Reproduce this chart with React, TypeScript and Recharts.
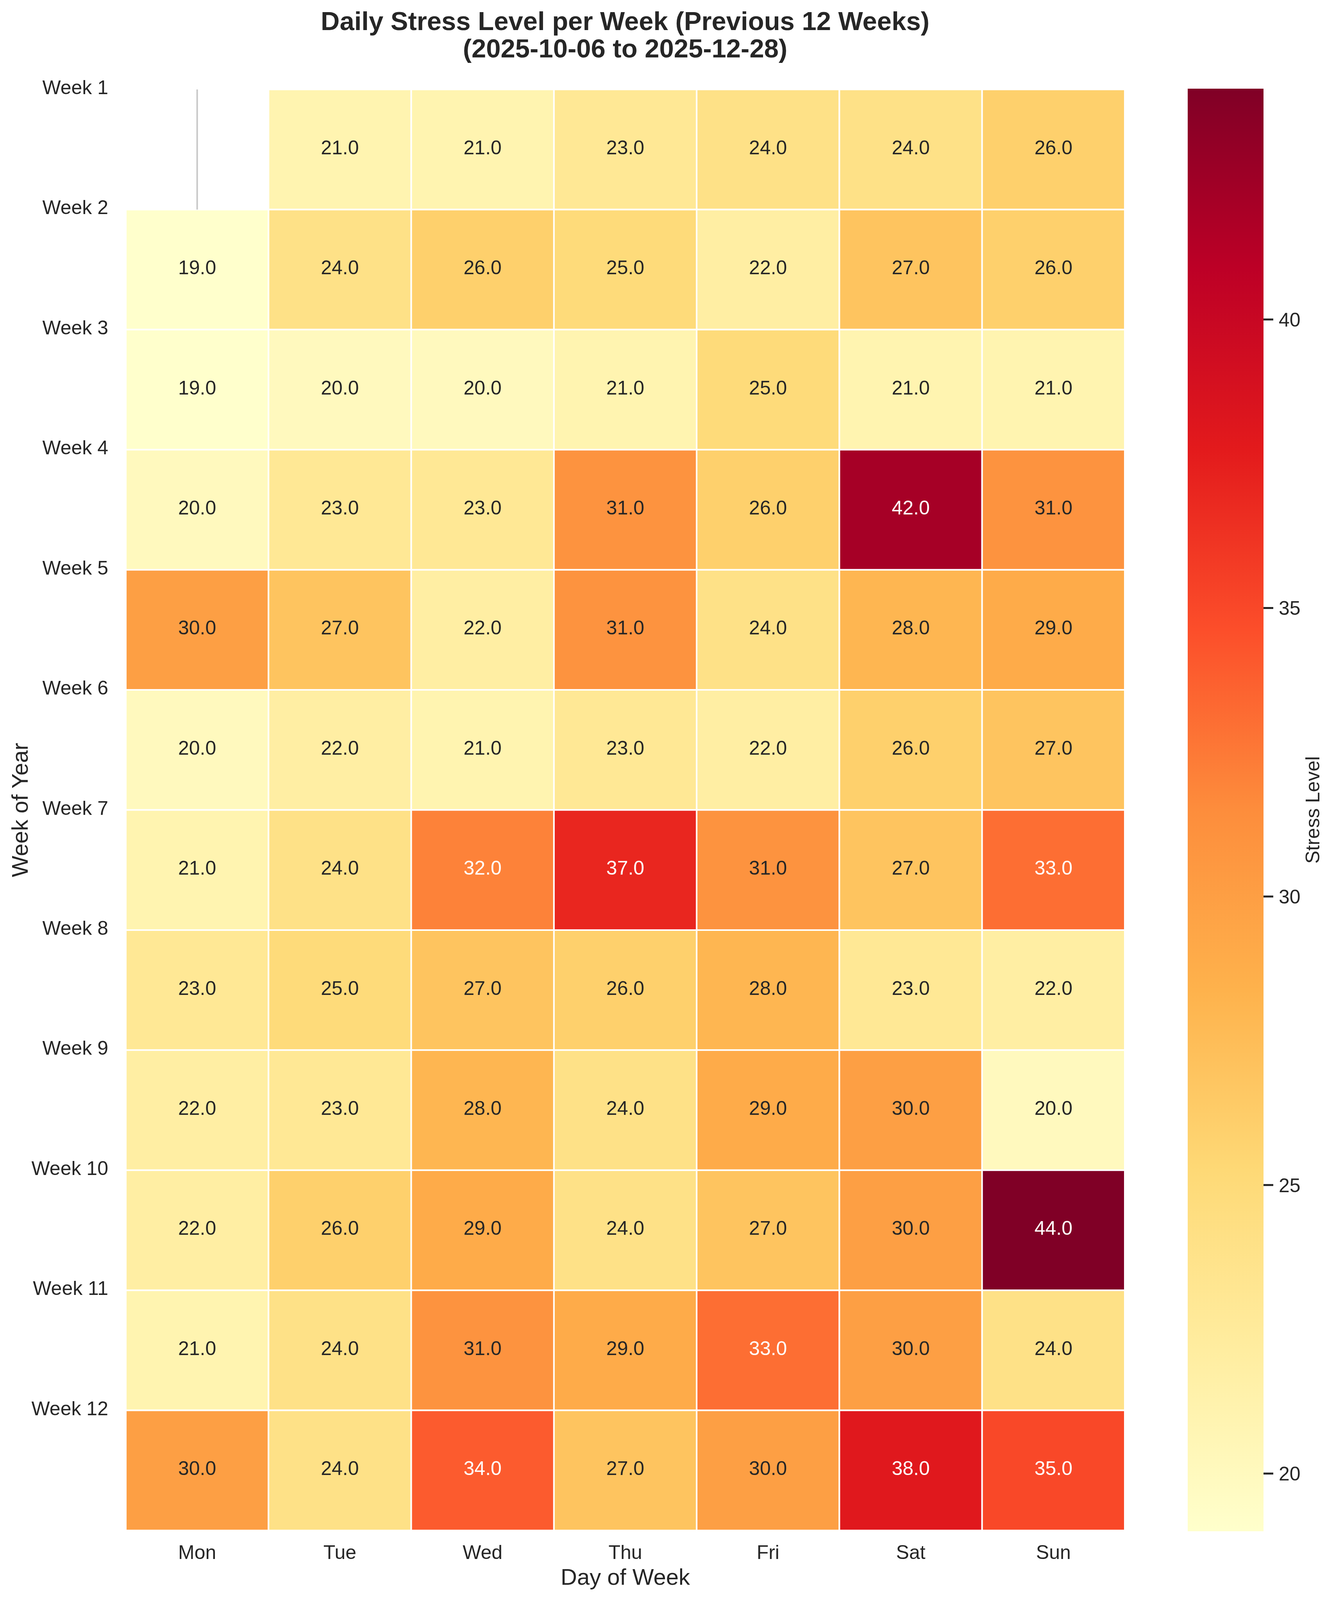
import React from 'react';
import {
  ScatterChart,
  Scatter,
  XAxis,
  YAxis,
  ReferenceArea,
  ReferenceLine,
  Label,
  ComposedChart,
  Bar,
} from 'recharts';

// ---------- data ----------
const DAYS = ['Mon', 'Tue', 'Wed', 'Thu', 'Fri', 'Sat', 'Sun'];
const WEEK_LABELS = ['Week 1', 'Week 2', 'Week 3', 'Week 4', 'Week 5', 'Week 6', 'Week 7', 'Week 8', 'Week 9', 'Week 10', 'Week 11', 'Week 12'];

const week1 = [null, 21, 21, 23, 24, 24, 26];
const week2 = [19, 24, 26, 25, 22, 27, 26];
const week3 = [19, 20, 20, 21, 25, 21, 21];
const week4 = [20, 23, 23, 31, 26, 42, 31];
const week5 = [30, 27, 22, 31, 24, 28, 29];
const week6 = [20, 22, 21, 23, 22, 26, 27];
const week7 = [21, 24, 32, 37, 31, 27, 33];
const week8 = [23, 25, 27, 26, 28, 23, 22];
const week9 = [22, 23, 28, 24, 29, 30, 20];
const week10 = [22, 26, 29, 24, 27, 30, 44];
const week11 = [21, 24, 31, 29, 33, 30, 24];
const week12 = [30, 24, 34, 27, 30, 38, 35];

const WEEKS = [week1, week2, week3, week4, week5, week6, week7, week8, week9, week10, week11, week12];

const COLORBAR_TICKS = [20, 25, 30, 35, 40];
const VMIN = 19;
const VMAX = 44;

const TITLE_LINE1 = 'Daily Stress Level per Week (Previous 12 Weeks)';
const TITLE_LINE2 = '(2025-10-06 to 2025-12-28)';

// ---------- colour map (YlOrRd) ----------
const YLORRD = ['#ffffcc', '#ffeda0', '#fed976', '#feb24c', '#fd8d3c', '#fc4e2a', '#e31a1c', '#bd0026', '#800026'];
const hexToRgb = (h: string) => [parseInt(h.slice(1, 3), 16), parseInt(h.slice(3, 5), 16), parseInt(h.slice(5, 7), 16)];
const STOPS = YLORRD.map(hexToRgb);

function cmapRgb(v: number): number[] {
  let t = (v - VMIN) / (VMAX - VMIN);
  t = Math.max(0, Math.min(1, t));
  const idx = Math.min(255, Math.floor(t * 256));
  const tt = idx / 255;
  const pos = tt * 8;
  const i = Math.min(7, Math.floor(pos));
  const f = pos - i;
  const a = STOPS[i];
  const b = STOPS[i + 1];
  return [0, 1, 2].map((k) => a[k] + (b[k] - a[k]) * f);
}
const rgbStr = (c: number[]) => `rgb(${c.map((x) => Math.round(x)).join(',')})`;
function luminance(c: number[]) {
  const lin = c.map((x) => {
    const s = x / 255;
    return s <= 0.03928 ? s / 12.92 : Math.pow((s + 0.055) / 1.055, 2.4);
  });
  return 0.2126 * lin[0] + 0.7152 * lin[1] + 0.0722 * lin[2];
}

type Cell = { x: number; y: number; c: number; r: number; v: number; fill: string; textColor: string };
const CELLS: Cell[] = [];
WEEKS.forEach((row, r) =>
  row.forEach((v, c) => {
    if (v == null) return;
    const rgb = cmapRgb(v);
    CELLS.push({
      x: c + 0.5,
      y: r + 0.5,
      c,
      r,
      v,
      fill: rgbStr(rgb),
      textColor: luminance(rgb) > 0.408 ? '#262626' : '#ffffff',
    });
  })
);

// ---------- layout (vertical metrics fitted to the 4096px captured height) ----------
const W = 3417;
const H = 4096;
const K = H / 4273;
const PLOT_TOP = Math.round(239 * K);
const PLOT_BOTTOM = Math.round(4087 * K);
const CB_TOP = Math.round(237 * K);
const CB_BOTTOM = Math.round(4089 * K);
const XAXIS_H = H - PLOT_BOTTOM;

const FONT = '"Liberation Sans", Arial, Helvetica, sans-serif';
const TXT = '#262626';

const XTick = (props: any) => {
  const { x, y, payload } = props;
  const label = DAYS[Math.round(payload.value - 0.5)];
  return (
    <text x={x} y={y + 73} textAnchor="middle" fill={TXT} fontSize={50} fontFamily={FONT}>
      {label}
    </text>
  );
};

const YTick = (props: any) => {
  const { x, y, payload } = props;
  return (
    <text x={x} y={y + 12} textAnchor="end" fill={TXT} fontSize={50} fontFamily={FONT}>
      {WEEK_LABELS[payload.value]}
    </text>
  );
};

const CbTick = (props: any) => {
  const { x, y, payload } = props;
  return (
    <text x={x} y={y + 18} textAnchor="start" fill={TXT} fontSize={50} fontFamily={FONT}>
      {payload.value}
    </text>
  );
};

const CellLabel = (props: any) => {
  const { cx, cy, payload } = props;
  if (cx == null || cy == null) return null;
  return (
    <text x={cx} y={cy + 12} textAnchor="middle" fill={payload.textColor} fontSize={50} fontFamily={FONT}>
      {payload.v.toFixed(1)}
    </text>
  );
};

const CB_DATA = [{ name: 'cb', range: [VMIN, VMAX] }];

export default function App() {
  return (
    <div style={{ position: 'relative', width: W, height: H, background: '#ffffff', fontFamily: FONT, overflow: 'hidden' }}>
      <style>{`body{margin:0;background:#fff;}`}</style>
      <svg width={0} height={0} style={{ position: 'absolute' }}>
        <defs>
          <linearGradient id="cbgrad" x1="0" y1="1" x2="0" y2="0">
            {YLORRD.map((c, i) => (
              <stop key={i} offset={i / (YLORRD.length - 1)} stopColor={c} />
            ))}
          </linearGradient>
        </defs>
      </svg>

      {/* Title */}
      <svg width={W} height={200} style={{ position: 'absolute', left: 0, top: 0 }}>
        <text x={1600} y={Math.round(80 * K)} textAnchor="middle" fontWeight="bold" fontSize={67} fill={TXT} fontFamily={FONT}>
          {TITLE_LINE1}
        </text>
        <text x={1600} y={Math.round(153 * K)} textAnchor="middle" fontWeight="bold" fontSize={67} fill={TXT} fontFamily={FONT}>
          {TITLE_LINE2}
        </text>
      </svg>

      {/* Heatmap */}
      <div style={{ position: 'absolute', left: 0, top: 0 }}>
        <ScatterChart width={W} height={H} margin={{ top: PLOT_TOP, right: 538, bottom: 0, left: 0 }}>
          <XAxis
            type="number"
            dataKey="x"
            domain={[0, 7]}
            ticks={[0.5, 1.5, 2.5, 3.5, 4.5, 5.5, 6.5]}
            interval={0}
            axisLine={false}
            tickLine={false}
            tickSize={0}
            tickMargin={0}
            height={XAXIS_H}
            tick={XTick}
          >
            <Label
              content={(p: any) => {
                const vb = p.viewBox || {};
                return (
                  <text x={vb.x + vb.width / 2} y={vb.y + 139} textAnchor="middle" fill={TXT} fontSize={58} fontFamily={FONT}>
                    Day of Week
                  </text>
                );
              }}
            />
          </XAxis>
          <YAxis
            type="number"
            dataKey="y"
            domain={[0, 12]}
            reversed
            ticks={[0, 1, 2, 3, 4, 5, 6, 7, 8, 9, 10, 11]}
            interval={0}
            axisLine={false}
            tickLine={false}
            tickSize={0}
            tickMargin={45}
            width={322}
            tick={YTick}
          >
            <Label
              content={(p: any) => {
                const vb = p.viewBox || {};
                const x = vb.x + 71;
                const y = vb.y + vb.height / 2;
                return (
                  <text x={x} y={y} transform={`rotate(-90, ${x}, ${y})`} textAnchor="middle" fill={TXT} fontSize={58} fontFamily={FONT}>
                    Week of Year
                  </text>
                );
              }}
            />
          </YAxis>
          {CELLS.map((cell) => (
            <ReferenceArea
              key={`${cell.r}-${cell.c}`}
              x1={cell.c}
              x2={cell.c + 1}
              y1={cell.r}
              y2={cell.r + 1}
              fill={cell.fill}
              fillOpacity={1}
              stroke="#ffffff"
              strokeWidth={4}
              strokeOpacity={1}
              ifOverflow="visible"
            />
          ))}
          <ReferenceLine
            segment={[
              { x: 0.5, y: 0 },
              { x: 0.5, y: 1 },
            ]}
            stroke="#c8c8c8"
            strokeWidth={4}
            ifOverflow="visible"
          />
          <Scatter data={CELLS} isAnimationActive={false} shape={CellLabel} />
        </ScatterChart>
      </div>

      {/* Colorbar */}
      <div style={{ position: 'absolute', left: 3040, top: 0 }}>
        <ComposedChart
          width={377}
          height={H}
          data={CB_DATA}
          margin={{ top: CB_TOP, right: 0, bottom: H - CB_BOTTOM, left: 0 }}
          barCategoryGap={0}
          barGap={0}
        >
          <XAxis dataKey="name" type="category" hide />
          <YAxis
            orientation="right"
            type="number"
            domain={[VMIN, VMAX]}
            ticks={COLORBAR_TICKS}
            interval={0}
            allowDataOverflow
            width={183}
            axisLine={false}
            tickSize={25}
            tickMargin={14}
            tickLine={{ stroke: TXT, strokeWidth: 5 }}
            tick={CbTick}
          >
            <Label
              content={(p: any) => {
                const vb = p.viewBox || {};
                const x = vb.x + 143;
                const y = vb.y + vb.height / 2;
                return (
                  <text x={x} y={y} transform={`rotate(-90, ${x}, ${y})`} textAnchor="middle" fill={TXT} fontSize={50} fontFamily={FONT}>
                    Stress Level
                  </text>
                );
              }}
            />
          </YAxis>
          <Bar dataKey="range" fill="url(#cbgrad)" isAnimationActive={false} />
        </ComposedChart>
      </div>
    </div>
  );
}
